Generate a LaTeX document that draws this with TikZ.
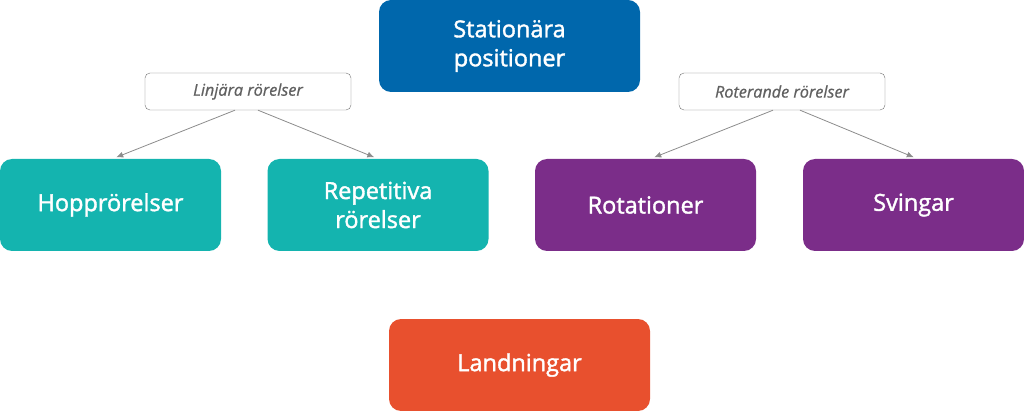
\documentclass[tikz,border=0pt]{standalone}
\usepackage{fontspec}
\setmainfont{Open Sans}
\newfontfamily\rutafont{Open Sans}[FakeBold=1.6]
\newfontfamily\etikettfont{Open Sans}[FakeBold=0.8]
\usetikzlibrary{arrows.meta}
\definecolor{blau}{HTML}{0067AC}
\definecolor{turkos}{HTML}{14B4AF}
\definecolor{lila}{HTML}{7B2D89}
\definecolor{orange}{HTML}{E8502E}
\definecolor{gra}{HTML}{8C8C8C}

\begin{document}
\begin{tikzpicture}[x=1pt,y=-1pt,
  ruta/.style={rounded corners=12pt, minimum width=221pt, minimum height=92pt, text=white, align=center, font=\rutafont\fontsize{23.5}{29}\selectfont},
  etikett/.style={draw=black!55, rounded corners=5pt, fill=white, minimum width=206pt, minimum height=37pt, text=black!62, font=\etikettfont\fontsize{16.2}{18}\selectfont\itshape},
  pil/.style={-{Latex[length=7pt,width=6pt]}, draw=gra, line width=0.8pt, shorten >=4pt}]
\useasboundingbox (0,0) rectangle (1024,411);
\node[ruta, fill=blau, minimum width=261pt] (stat) at (509.5,46) {Stationära\\positioner};
\node[etikett] (lin) at (248,91.5) {Linjära rörelser};
\node[etikett] (rot) at (782,91.5) {Roterande rörelser};
\node[ruta, fill=turkos] (hopp) at (110.5,205) {Hopprörelser};
\node[ruta, fill=turkos] (rep) at (378,205) {Repetitiva\\rörelser};
\node[ruta, fill=lila] (rota) at (645.5,205) {Rotationer};
\node[ruta, fill=lila] (sving) at (913.5,205) {Svingar};
\node[ruta, fill=orange, minimum width=261pt] (land) at (519.5,365) {Landningar};
\draw[pil] ([xshift=-13pt]lin.south) -- ([xshift=2pt]hopp.north);
\draw[pil] ([xshift=10pt]lin.south) -- (rep.north);
\draw[pil] ([xshift=-9pt]rot.south) -- ([xshift=5pt]rota.north);
\draw[pil] ([xshift=18pt]rot.south) -- ([xshift=4pt]sving.north);
\end{tikzpicture}
\end{document}
